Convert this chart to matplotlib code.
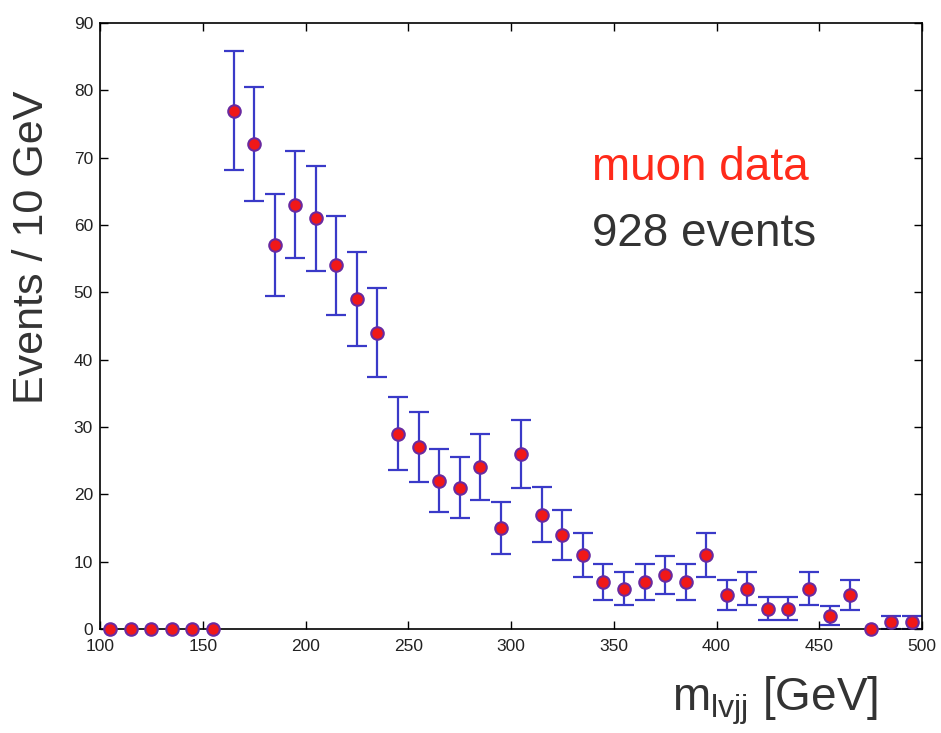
import numpy as np
import matplotlib
matplotlib.use("Agg")
import matplotlib.pyplot as plt

plt.rcParams["font.family"] = ["Liberation Sans", "DejaVu Sans"]
plt.rcParams["mathtext.fontset"] = "custom"
plt.rcParams["mathtext.rm"] = "Liberation Sans"

# bin centres (10 GeV bins) and event counts per bin
bin_centers = [105, 115, 125, 135, 145, 155, 165, 175, 185, 195,
               205, 215, 225, 235, 245, 255, 265, 275, 285, 295,
               305, 315, 325, 335, 345, 355, 365, 375, 385, 395,
               405, 415, 425, 435, 445, 455, 465, 475, 485, 495]
counts = [0, 0, 0, 0, 0, 0, 77, 72, 57, 63,
          61, 54, 49, 44, 29, 27, 22, 21, 24, 15,
          26, 17, 14, 11, 7, 6, 7, 8, 7, 11,
          5, 6, 3, 3, 6, 2, 5, 0, 1, 1]
x_ticks = [100, 150, 200, 250, 300, 350, 400, 450, 500]
y_ticks = [0, 10, 20, 30, 40, 50, 60, 70, 80, 90]

x = np.array(bin_centers)
y = np.array(counts)
err = np.sqrt(y)
has_err = y > 0  # empty bins get no error bar

fig = plt.figure(figsize=(9.41, 7.33), dpi=100)
ax = fig.add_axes([0.1063, 0.1419, 0.8735, 0.8267])

ax.errorbar(x[has_err], y[has_err], yerr=err[has_err], fmt="none",
            ecolor="#3a3ac8", elinewidth=1.6, capsize=7.5, capthick=1.6, zorder=2)
ax.plot(x, y, "o", color="#f01818", markeredgecolor="#6a2aa0",
        markeredgewidth=1.5, markersize=9, clip_on=False, zorder=3)

ax.set_xlim(100, 500)
ax.set_ylim(0, 90)
ax.set_xticks(x_ticks)
ax.set_yticks(y_ticks)
ax.tick_params(direction="in", top=True, right=True, length=6, width=1,
               labelsize=12.5, labelcolor="#222222")
ax.tick_params(axis="x", pad=7)
ax.tick_params(axis="y", pad=5)
for s in ax.spines.values():
    s.set_linewidth(1.2)

fig.text(0.034, 0.663, "Events / 10 GeV", rotation=90, ha="center", va="center",
         fontsize=31, color="#333333")
fig.text(0.933, 0.044, r"$\mathregular{m_{lvjj}}$ [GeV]", ha="right", va="center",
         fontsize=33, color="#333333")

ax.text(0.598, 0.76, "muon data", transform=ax.transAxes, ha="left", va="center",
        fontsize=33, color="#ff2a1a")
ax.text(0.598, 0.652, "928 events", transform=ax.transAxes, ha="left", va="center",
        fontsize=33, color="#333333")

fig.savefig("out.png", dpi=100)
